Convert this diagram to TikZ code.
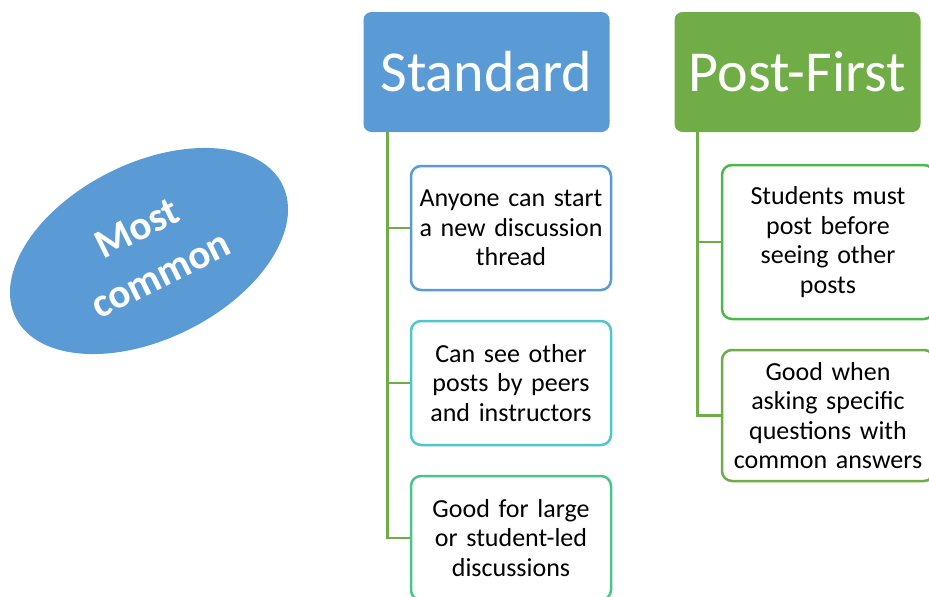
\documentclass[tikz,border=0pt]{standalone}
\usepackage{fontspec}
\setmainfont{Carlito}
\usetikzlibrary{shapes.geometric}

\definecolor{hdrblue}{HTML}{5B9BD5}
\definecolor{hdrgreen}{HTML}{70AD47}
\definecolor{itemcyan}{HTML}{4EC6CC}
\definecolor{itemteal}{HTML}{4CC38A}
\definecolor{itemlime}{HTML}{4CB84A}

\begin{document}
\begin{tikzpicture}[x=1pt,y=-1pt,
  header/.style={rounded corners=8pt, minimum width=246pt, minimum height=120pt,
    inner sep=0pt, text=white, font=\fontsize{58}{60}\selectfont},
  item/.style={draw, line width=2.5pt, rounded corners=10pt, fill=white,
    minimum width=200pt, minimum height=124pt, inner sep=0pt,
    text width=196pt, align=center, font=\fontsize{26}{29.5}\selectfont},
  link/.style={draw=hdrgreen, line width=2.5pt}]

\useasboundingbox (0,0) rectangle (929,597);
\clip (0,0) rectangle (929,597);

% Tag
\node[ellipse, fill=hdrblue, rotate=26.5, minimum width=298pt, minimum height=176pt,
  inner sep=0pt, text=white, align=center, font=\bfseries\fontsize{41}{52}\selectfont]
  (common) at (149,251) {Most\\common};

% Headers
\node[header, fill=hdrblue] (std) at (486.5,72) {Standard};
\node[header, fill=hdrgreen] (pf) at (797.5,72) {Post-First};

% Standard items
\node[item, draw=hdrblue] (s1) at (511,228) {Anyone can start\\a new discussion\\thread};
\node[item, draw=itemcyan] (s2) at (511,383) {Can see other\\posts by peers\\and instructors};
\node[item, draw=itemteal] (s3) at (511,538) {Good for large\\or student-led\\discussions};

% Post-First items
\node[item, draw=itemlime, minimum width=212pt, minimum height=154pt, text width=208pt]
  (p1) at (828,242) {Students must\\post before\\seeing other\\posts};
\node[item, draw=hdrgreen, minimum width=212pt, minimum height=131pt, text width=208pt]
  (p2) at (828,415.5) {Good when\\asking specific\\questions with\\common answers};

% Connectors
\draw[link] ([xshift=24pt]std.south west) |- (s3.west);
\draw[link] (s1.west) -| ([xshift=24pt]std.south west);
\draw[link] (s2.west) -| ([xshift=24pt]std.south west);
\draw[link] ([xshift=23pt]pf.south west) |- (p2.west);
\draw[link] (p1.west) -| ([xshift=23pt]pf.south west);

\end{tikzpicture}
\end{document}
